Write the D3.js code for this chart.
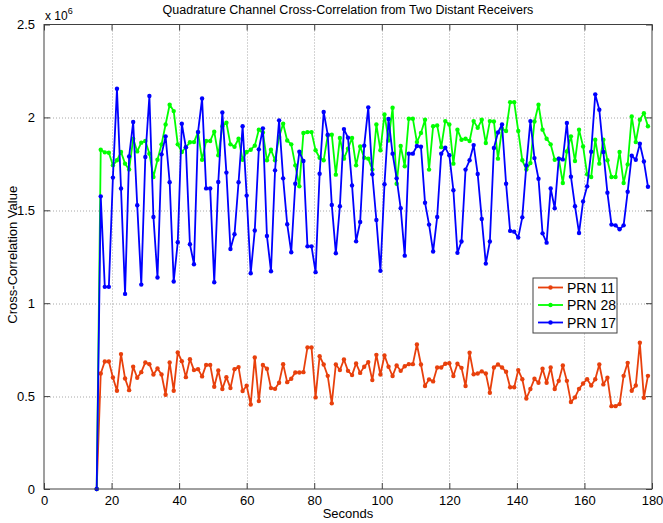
<!DOCTYPE html>
<html>
<head>
<meta charset="utf-8">
<script src="https://cdn.jsdelivr.net/npm/d3@7"></script>
<style>
  body { margin: 0; background: #fff; }
  svg text { font-family: "Liberation Sans", Arial, sans-serif; }
</style>
</head>
<body>
<div id="chart"></div>
<script>
// sample times: first sample at 15.6 s, then one every 1.2 s
const startTime = 15.6;
const sampleStep = 1.2;

// values in units of 1e6
const prn11 = [0,
  0.622, 0.686, 0.686, 0.600, 0.529, 0.726, 0.595, 0.532, 0.658, 0.599,
  0.629, 0.681, 0.672, 0.616, 0.649, 0.616, 0.507, 0.681, 0.529, 0.735,
  0.688, 0.602, 0.699, 0.640, 0.645, 0.606, 0.668, 0.668, 0.550, 0.638,
  0.538, 0.602, 0.543, 0.645, 0.656, 0.527, 0.556, 0.455, 0.708, 0.473,
  0.668, 0.647, 0.543, 0.539, 0.572, 0.672, 0.575, 0.593, 0.627, 0.627,
  0.629, 0.762, 0.762, 0.493, 0.715, 0.670, 0.609, 0.461, 0.670, 0.640,
  0.697, 0.636, 0.613, 0.676, 0.625, 0.658, 0.683, 0.586, 0.722, 0.616,
  0.719, 0.658, 0.608, 0.665, 0.636, 0.661, 0.672, 0.672, 0.778, 0.670,
  0.554, 0.590, 0.579, 0.654, 0.654, 0.674, 0.677, 0.608, 0.674, 0.652,
  0.554, 0.733, 0.618, 0.622, 0.633, 0.622, 0.518, 0.654, 0.670, 0.654,
  0.631, 0.548, 0.548, 0.640, 0.591, 0.487, 0.538, 0.593, 0.572, 0.647,
  0.572, 0.654, 0.538, 0.582, 0.665, 0.582, 0.468, 0.493, 0.539, 0.568,
  0.591, 0.557, 0.591, 0.670, 0.563, 0.599, 0.446, 0.446, 0.457, 0.609,
  0.679, 0.529, 0.557, 0.787, 0.491, 0.609];

const prn28 = [0,
  1.826, 1.812, 1.810, 1.742, 1.769, 1.814, 1.751, 1.720, 1.885, 1.817,
  1.864, 1.873, 1.805, 1.679, 1.772, 1.855, 1.962, 2.068, 2.034, 1.855,
  1.814, 1.840, 1.866, 1.867, 1.921, 1.772, 1.873, 1.873, 1.923, 1.796,
  1.952, 1.971, 1.855, 1.842, 1.885, 1.772, 1.814, 1.826, 1.848, 1.934,
  1.919, 1.769, 1.826, 1.769, 1.894, 1.966, 1.876, 1.855, 1.742, 1.629,
  1.916, 1.921, 1.921, 1.823, 1.783, 1.769, 1.903, 1.907, 1.692, 1.889,
  1.778, 1.832, 1.889, 1.742, 1.844, 1.783, 1.778, 1.719, 1.962, 1.823,
  2.016, 1.876, 2.052, 1.643, 1.846, 1.737, 1.993, 1.993, 1.867, 1.916,
  1.987, 1.719, 1.952, 1.957, 1.840, 1.980, 1.962, 1.751, 1.934, 1.880,
  1.885, 1.873, 1.980, 1.944, 1.987, 1.862, 1.980, 1.978, 1.778, 1.939,
  1.927, 2.082, 2.082, 1.927, 1.769, 1.719, 1.754, 1.978, 2.068, 1.934,
  1.885, 1.855, 1.772, 1.778, 1.647, 1.817, 1.898, 1.765, 1.934, 1.844,
  1.694, 1.679, 1.880, 1.751, 1.880, 1.769, 1.679, 1.679, 1.814, 1.647,
  1.747, 2.005, 1.867, 1.987, 2.023, 1.952];

const prn17 = [0,
  1.575, 1.088, 1.088, 1.676, 2.154, 1.617, 1.050, 1.790, 1.975, 1.527,
  1.100, 1.787, 2.115, 1.464, 1.138, 1.801, 1.898, 1.651, 1.117, 1.328,
  1.966, 1.839, 1.317, 1.210, 1.921, 2.102, 1.618, 1.618, 1.113, 1.652,
  2.027, 1.703, 1.292, 1.371, 1.651, 1.952, 1.579, 1.161, 1.391, 1.828,
  1.941, 1.362, 1.172, 1.715, 1.984, 1.672, 1.425, 1.274, 1.643, 1.815,
  1.765, 1.306, 1.306, 1.167, 1.697, 2.029, 1.907, 1.529, 1.269, 1.522,
  1.937, 1.891, 1.634, 1.333, 1.437, 1.848, 2.054, 1.694, 1.448, 1.174,
  1.640, 1.991, 1.805, 1.672, 1.511, 1.256, 1.805, 1.805, 1.846, 1.842,
  1.541, 1.423, 1.278, 1.464, 1.805, 1.837, 1.796, 1.608, 1.271, 1.332,
  1.719, 1.769, 1.851, 1.695, 1.453, 1.213, 1.332, 1.835, 1.919, 1.962,
  1.643, 1.389, 1.385, 1.353, 1.462, 1.742, 1.980, 1.781, 1.670, 1.376,
  1.326, 1.618, 1.511, 1.778, 1.774, 1.970, 1.681, 1.522, 1.378, 1.548,
  1.629, 1.815, 2.124, 2.041, 1.814, 1.595, 1.423, 1.419, 1.398, 1.419,
  1.600, 1.794, 1.772, 1.858, 1.763, 1.627];

const seriesNames = ["PRN 11", "PRN 28", "PRN 17"];
const seriesColors = ["#e8400c", "#00ff00", "#0000ff"];
const seriesValues = [prn11, prn28, prn17];

const xTicks = [0, 20, 40, 60, 80, 100, 120, 140, 160, 180];
const yTicks = [0, 0.5, 1, 1.5, 2, 2.5];

const width = 663, height = 523;
const margin = {top: 24.5, right: 11, bottom: 34, left: 44};
const plotW = width - margin.left - margin.right;
const plotH = height - margin.top - margin.bottom;

const svg = d3.select("#chart").append("svg")
    .attr("width", width)
    .attr("height", height);

const x = d3.scaleLinear().domain([0, 180]).range([0, plotW]);
const y = d3.scaleLinear().domain([0, 2.5]).range([plotH, 0]);

const g = svg.append("g")
    .attr("transform", `translate(${margin.left}, ${margin.top})`);

// grid lines (dotted)
g.selectAll(".xgrid").data(xTicks.slice(1, -1)).enter()
    .append("line")
    .attr("x1", d => Math.round(x(d)) + 0.5).attr("x2", d => Math.round(x(d)) + 0.5)
    .attr("y1", 0).attr("y2", plotH)
    .attr("stroke", "#a8a8a8").attr("stroke-width", 1)
    .attr("stroke-dasharray", "1,2");
g.selectAll(".ygrid").data(yTicks.slice(1, -1)).enter()
    .append("line")
    .attr("y1", d => Math.round(y(d)) + 0.5).attr("y2", d => Math.round(y(d)) + 0.5)
    .attr("x1", 0).attr("x2", plotW)
    .attr("stroke", "#a8a8a8").attr("stroke-width", 1)
    .attr("stroke-dasharray", "1,2");

// axes with inward ticks
const tickLen = 6;
const xAxis = g.append("g")
    .attr("transform", `translate(0, ${plotH})`)
    .call(d3.axisBottom(x).tickValues(xTicks).tickSizeInner(-tickLen).tickSizeOuter(0).tickPadding(tickLen + 1));
const yAxis = g.append("g")
    .call(d3.axisLeft(y).tickValues(yTicks).tickFormat(d => d).tickSizeInner(-tickLen).tickSizeOuter(0).tickPadding(tickLen + 3));
g.append("g")
    .call(d3.axisTop(x).tickValues(xTicks).tickSizeInner(-tickLen).tickSizeOuter(0).tickFormat(""));
g.append("g")
    .attr("transform", `translate(${plotW}, 0)`)
    .call(d3.axisRight(y).tickValues(yTicks).tickSizeInner(-tickLen).tickSizeOuter(0).tickFormat(""));

g.selectAll(".domain").remove();
g.selectAll(".tick line").attr("stroke", "#404040");
xAxis.selectAll("text").style("font-size", "13px").attr("fill", "#000");
yAxis.selectAll("text").style("font-size", "13px").attr("fill", "#000");

// data lines
const line = d3.line()
    .x((d, i) => x(startTime + i * sampleStep))
    .y(d => y(d));

seriesValues.forEach((vals, k) => {
    g.append("path")
        .datum(vals)
        .attr("fill", "none")
        .attr("stroke", seriesColors[k])
        .attr("stroke-width", 1.8)
        .attr("stroke-linejoin", "round")
        .attr("d", line);
    g.selectAll(null).data(vals).enter()
        .append("circle")
        .attr("cx", (d, i) => x(startTime + i * sampleStep))
        .attr("cy", d => y(d))
        .attr("r", 2.2)
        .attr("fill", seriesColors[k]);
});

// plot box
g.append("rect")
    .attr("x", 0).attr("y", 0)
    .attr("width", plotW).attr("height", plotH)
    .attr("fill", "none")
    .attr("stroke", "#404040").attr("stroke-width", 1);

// exponent label
const expo = svg.append("text")
    .attr("x", margin.left + 1).attr("y", margin.top - 5)
    .style("font-size", "12px")
    .text("x 10");
expo.append("tspan").attr("dy", -6).style("font-size", "9px").text("6");

// title and axis labels
svg.append("text")
    .attr("x", margin.left + plotW / 2).attr("y", 14)
    .attr("text-anchor", "middle")
    .style("font-size", "12.5px")
    .text("Quadrature Channel Cross-Correlation from Two Distant Receivers");
svg.append("text")
    .attr("x", margin.left + plotW / 2).attr("y", 518)
    .attr("text-anchor", "middle")
    .style("font-size", "13px")
    .text("Seconds");
svg.append("text")
    .attr("transform", `translate(17, ${margin.top + plotH / 2 - 2}) rotate(-90)`)
    .attr("text-anchor", "middle")
    .style("font-size", "13px")
    .text("Cross-Correlation Value");

// legend
const legend = svg.append("g").attr("transform", "translate(533, 278)");
legend.append("rect")
    .attr("width", 84).attr("height", 55)
    .attr("fill", "#fff")
    .attr("stroke", "#404040").attr("stroke-width", 1);
seriesNames.forEach((name, k) => {
    const ly = 9.5 + k * 17.5;
    legend.append("line")
        .attr("x1", 5).attr("x2", 30)
        .attr("y1", ly).attr("y2", ly)
        .attr("stroke", seriesColors[k]).attr("stroke-width", 1.8);
    legend.append("circle")
        .attr("cx", 17.5).attr("cy", ly).attr("r", 2.2)
        .attr("fill", seriesColors[k]);
    legend.append("text")
        .attr("x", 34).attr("y", ly + 5)
        .style("font-size", "14px")
        .text(name);
});
</script>
</body>
</html>
